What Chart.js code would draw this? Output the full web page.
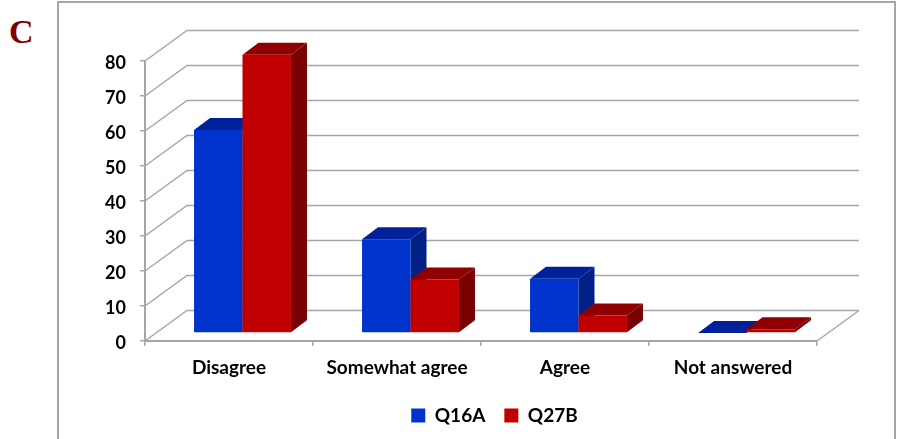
<!DOCTYPE html>
<html lang="en">
<head>
<meta charset="UTF-8">
<title>C</title>
<script src="https://cdn.jsdelivr.net/npm/chart.js"></script>
<style>
    html, body { margin: 0; padding: 0; background: #fff; overflow: hidden; }
    #wrap { position: relative; width: 898px; height: 439px; overflow: hidden; }
    #frame { position: absolute; left: 57px; top: 1px; width: 835px; height: 600px; border: 2px solid #a6a6a6; }
    #letter { position: absolute; left: 9px; top: 13px; font: bold 34px "Liberation Serif", serif; color: #7f0000; }
    canvas { position: absolute; left: 0; top: 0; }
</style>
</head>
<body>
<div id="wrap">
    <div id="frame"></div>
    <div id="letter">C</div>
    <canvas id="chart" width="898" height="439"></canvas>
</div>
<script>
const categories = ['Disagree', 'Somewhat agree', 'Agree', 'Not answered'];
const q16a = [58, 26.8, 15.5, 0];
const q27b = [79.5, 15.3, 5, 1.1];
const yTicks = [0, 10, 20, 30, 40, 50, 60, 70, 80];

const gridColor = '#a6a6a6';
const wallDx = 42, wallDy = -30.5;    // how far the back wall sits behind the axes
const barDx = 13.5, barDy = -8;       // bars stand a little way in on the floor
const depthDx = 16, depthDy = -12;    // depth of each bar

const shades = {
    Q16A: { front: '#0033cc', top: '#00219a', side: '#002088' },
    Q27B: { front: '#c00000', top: '#900000', side: '#780000' }
};

function drawWalls(chart) {
    const ctx = chart.ctx, x = chart.scales.x, y = chart.scales.y;
    ctx.save();
    ctx.strokeStyle = gridColor;
    ctx.lineWidth = 1.5;
    ctx.beginPath();
    yTicks.forEach(v => {
        const py = y.getPixelForValue(v);
        ctx.moveTo(x.left, py);
        ctx.lineTo(x.left + wallDx, py + wallDy);
        ctx.lineTo(x.right + wallDx, py + wallDy);
    });
    const py0 = y.getPixelForValue(0);
    ctx.moveTo(x.right, py0);
    ctx.lineTo(x.right + wallDx, py0 + wallDy);
    ctx.stroke();
    ctx.restore();
}

function drawDepth(ctx, meta, c) {
    meta.data.forEach(bar => {
        const l = bar.x - bar.width / 2, r = bar.x + bar.width / 2;
        ctx.fillStyle = c.side;
        ctx.beginPath();
        ctx.moveTo(r, bar.y);
        ctx.lineTo(r + depthDx, bar.y + depthDy);
        ctx.lineTo(r + depthDx, bar.base + depthDy);
        ctx.lineTo(r, bar.base);
        ctx.closePath();
        ctx.fill();
        ctx.fillStyle = c.top;
        ctx.beginPath();
        ctx.moveTo(l, bar.y);
        ctx.lineTo(l + depthDx, bar.y + depthDy);
        ctx.lineTo(r + depthDx, bar.y + depthDy);
        ctx.lineTo(r, bar.y);
        ctx.closePath();
        ctx.fill();
    });
}

const threeD = {
    id: 'threeD',
    afterLayout(chart) {
        // legend sits right of where the layout centres it
        chart.legend.left += 86;
        chart.legend.right += 86;
    },
    beforeDatasetsDraw(chart) {
        // Q16A has to go down first so Q27B covers its side, the default order is the reverse
        const ctx = chart.ctx;
        drawWalls(chart);
        chart.data.datasets.forEach((ds, i) => {
            const meta = chart.getDatasetMeta(i);
            ctx.save();
            ctx.translate(barDx, barDy);
            drawDepth(ctx, meta, shades[ds.label]);
            meta.controller.draw();
            ctx.restore();
        });
        return false;
    }
};

const tickFont = { family: 'Lato', weight: 'bold', size: 18 };
const labelFont = { family: 'Lato', weight: 'bold', size: 19 };

new Chart(document.getElementById('chart').getContext('2d'), {
    type: 'bar',
    data: {
        labels: categories,
        datasets: [
            { label: 'Q16A', data: q16a, backgroundColor: shades.Q16A.front },
            { label: 'Q27B', data: q27b, backgroundColor: shades.Q27B.front }
        ]
    },
    options: {
        responsive: false,
        animation: false,
        devicePixelRatio: 1,
        categoryPercentage: 0.577,
        barPercentage: 1,
        layout: { padding: { top: 61, right: 81, bottom: 4, left: 0 } },
        scales: {
            x: {
                afterFit(scale) { scale.height = 46; },
                grid: { drawOnChartArea: false, color: gridColor, lineWidth: 1.5, tickLength: 5 },
                border: { color: gridColor, width: 2 },
                ticks: { color: '#000', font: labelFont, padding: 10, maxRotation: 0 }
            },
            y: {
                min: 0,
                max: 80,
                afterFit(scale) { scale.width = 145; },
                grid: { drawOnChartArea: false, color: gridColor, lineWidth: 1.5, tickLength: 5 },
                border: { color: gridColor, width: 2 },
                ticks: { stepSize: 10, color: '#000', font: tickFont, padding: 14, labelOffset: 2 }
            }
        },
        plugins: {
            tooltip: { enabled: false },
            legend: {
                position: 'bottom',
                labels: { color: '#000', font: labelFont, boxWidth: 14, boxHeight: 14, padding: 19 }
            }
        }
    },
    plugins: [threeD]
});
</script>
</body>
</html>
